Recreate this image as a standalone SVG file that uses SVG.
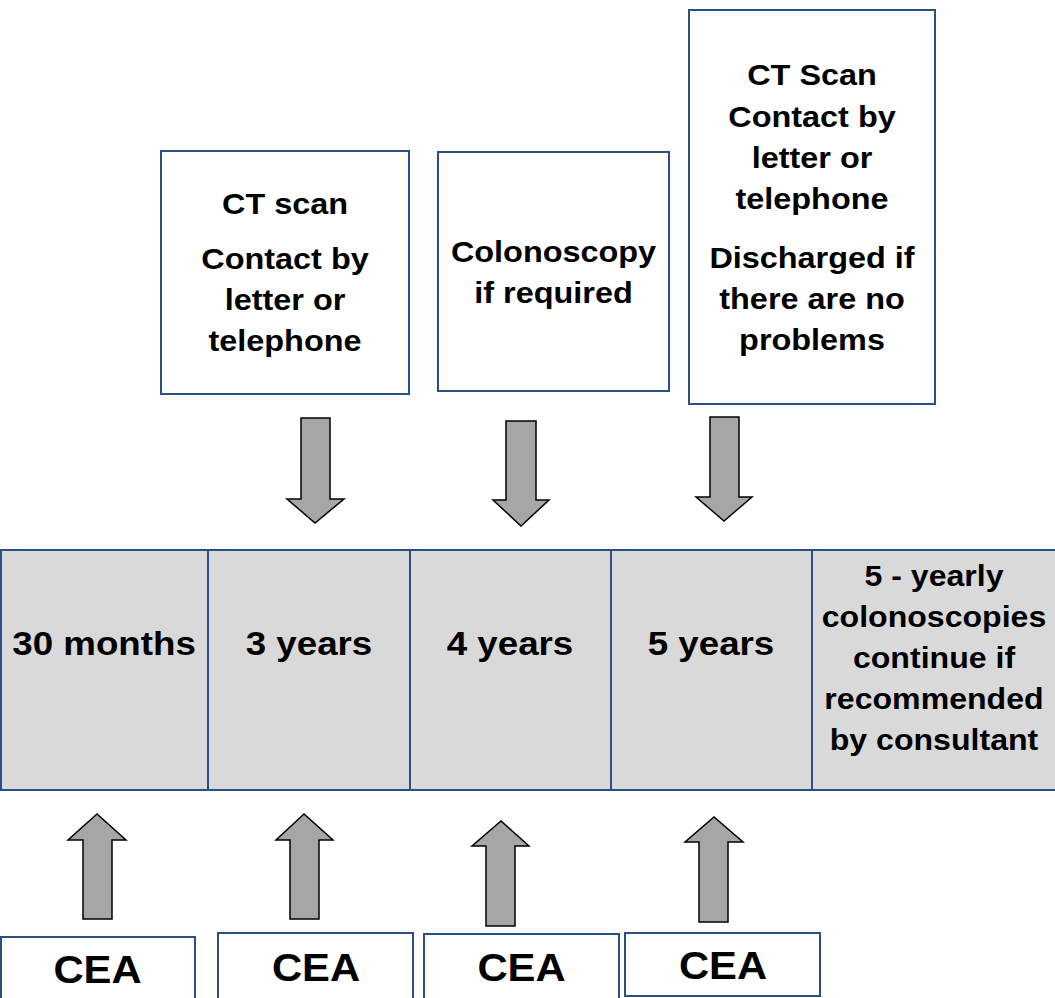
<svg xmlns="http://www.w3.org/2000/svg" width="1055" height="998" viewBox="0 0 1055 998">
<style>
.box{fill:#ffffff;stroke:#2b4f82;stroke-width:2}
.cell{fill:#d9d9d9;stroke:#2b4f82;stroke-width:2}
.arr{fill:#a6a6a6;stroke:#000000;stroke-width:1.5;stroke-linejoin:miter}
text{font-family:"Liberation Sans",Arial,sans-serif;font-weight:bold;fill:#000000;text-anchor:middle}
.t30{font-size:30px}
.t34{font-size:34px}
.t38{font-size:38px}
</style>
<rect width="1055" height="998" fill="#ffffff"/>

<g id="box-ct3">
<rect class="box" x="161" y="151" width="248" height="243"/>
<text class="t30" transform="translate(285,0) scale(1.08,1)"><tspan x="0" y="214">CT scan</tspan><tspan x="0" y="269">Contact by</tspan><tspan x="0" y="310">letter or</tspan><tspan x="0" y="351">telephone</tspan></text>
</g>

<g id="box-colon">
<rect class="box" x="438" y="152" width="231" height="239"/>
<text class="t30" transform="translate(553.5,0) scale(1.08,1)"><tspan x="0" y="262">Colonoscopy</tspan><tspan x="0" y="303">if required</tspan></text>
</g>

<g id="box-ct5">
<rect class="box" x="689" y="10" width="246" height="394"/>
<text class="t30" transform="translate(812,0) scale(1.08,1)"><tspan x="0" y="85">CT Scan</tspan><tspan x="0" y="127">Contact by</tspan><tspan x="0" y="168">letter or</tspan><tspan x="0" y="209">telephone</tspan><tspan x="0" y="268">Discharged if</tspan><tspan x="0" y="309">there are no</tspan><tspan x="0" y="350">problems</tspan></text>
</g>

<g id="cell-30m">
<rect class="cell" x="1" y="550" width="207" height="240"/>
<text class="t34" transform="translate(104,0) scale(1.08,1)" x="0" y="655">30 months</text>
</g>
<g id="cell-3y">
<rect class="cell" x="208" y="550" width="202" height="240"/>
<text class="t34" transform="translate(309,0) scale(1.08,1)" x="0" y="655">3 years</text>
</g>
<g id="cell-4y">
<rect class="cell" x="410" y="550" width="201" height="240"/>
<text class="t34" transform="translate(510,0) scale(1.08,1)" x="0" y="655">4 years</text>
</g>
<g id="cell-5y">
<rect class="cell" x="611" y="550" width="201" height="240"/>
<text class="t34" transform="translate(711,0) scale(1.08,1)" x="0" y="655">5 years</text>
</g>
<g id="cell-5yearly">
<rect class="cell" x="812" y="550" width="246" height="240"/>
<text class="t30" transform="translate(934,0) scale(1.07,1)"><tspan x="0" y="586">5 - yearly</tspan><tspan x="0" y="627">colonoscopies</tspan><tspan x="0" y="668">continue if</tspan><tspan x="0" y="709">recommended</tspan><tspan x="0" y="750">by consultant</tspan></text>
</g>

<g id="cea-1">
<rect class="box" x="1" y="937" width="194" height="70"/>
<text class="t38" transform="translate(97.5,0) scale(1.1,1)" x="0" y="983">CEA</text>
</g>
<g id="cea-2">
<rect class="box" x="218" y="933" width="195" height="74"/>
<text class="t38" transform="translate(316,0) scale(1.1,1)" x="0" y="981">CEA</text>
</g>
<g id="cea-3">
<rect class="box" x="424" y="934" width="195" height="73"/>
<text class="t38" transform="translate(521.5,0) scale(1.1,1)" x="0" y="981">CEA</text>
</g>
<g id="cea-4">
<rect class="box" x="625" y="933" width="195" height="63"/>
<text class="t38" transform="translate(723,0) scale(1.1,1)" x="0" y="979">CEA</text>
</g>

<g id="connectors">
<polygon class="arr" points="301,418 330,418 330,499 344,499 315,523 287,499 301,499"/>
<polygon class="arr" points="506,421 536,421 536,500 549,500 521,526 493,500 506,500"/>
<polygon class="arr" points="710,417 739,417 739,497 752,497 724,521 696,497 710,497"/>
<polygon class="arr" points="83,919 112,919 112,840 126,840 97,814 68,840 83,840"/>
<polygon class="arr" points="290,919 319,919 319,840 333,840 304,814 276,840 290,840"/>
<polygon class="arr" points="486,926 515,926 515,846 529,846 501,821 472,846 486,846"/>
<polygon class="arr" points="699,922 728,922 728,842 743,842 714,817 685,842 699,842"/>
</g>
</svg>
